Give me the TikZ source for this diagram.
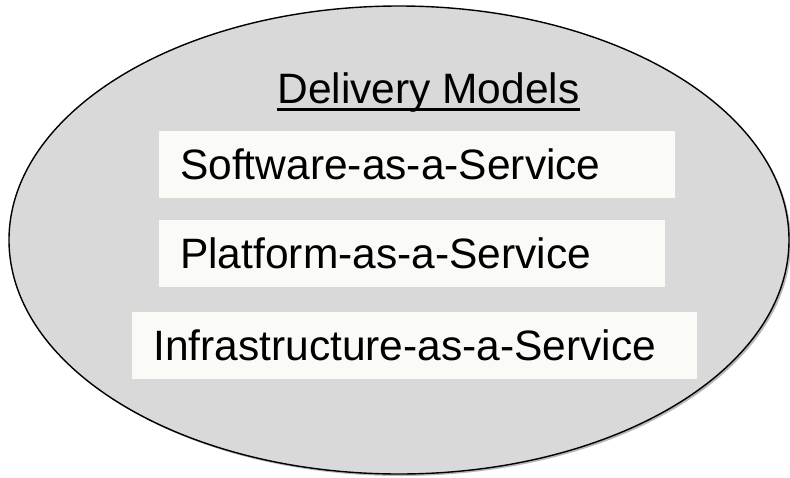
\documentclass[tikz,border=0pt]{standalone}
\usepackage{fontspec}
\setmainfont{Liberation Sans}
\definecolor{ovalfill}{HTML}{D9D9D9}
\definecolor{ovalshadow}{HTML}{B8B8B8}
\definecolor{boxfill}{HTML}{FAFAF6}
\tikzset{
  oval/.style={fill=ovalfill, draw=black, line width=1.4pt},
  svcbox/.style={fill=boxfill, draw=none, anchor=north west, inner xsep=21pt,
    inner ysep=0pt, minimum height=67pt, align=left,
    font=\fontsize{42.5}{50}\selectfont},
  heading/.style={inner sep=0pt, anchor=base, font=\fontsize{42.5}{50}\selectfont}
}
\begin{document}
\begin{tikzpicture}[x=1pt, y=-1pt]
  \useasboundingbox (0,0) rectangle (790,477);
  % drop shadow and the oval itself
  \fill[ovalshadow] (401,242) ellipse [x radius=390, y radius=234];
  \path[oval] (399,240) ellipse [x radius=390, y radius=234];
  % heading with underline
  \node[heading] (title) at (428.5,103) {Delivery Models};
  \draw[line width=2.6pt] ([yshift=-6.5pt]title.base west) -- ([yshift=-6.5pt]title.base east);
  % the three service layers
  \node[svcbox, text width=474pt] (saas) at (159,131) {Software-as-a-Service};
  \node[svcbox, text width=464pt] (paas) at (159,220) {Platform-as-a-Service};
  \node[svcbox, text width=523pt] (iaas) at (132,312) {Infrastructure-as-a-Service};
\end{tikzpicture}
\end{document}
